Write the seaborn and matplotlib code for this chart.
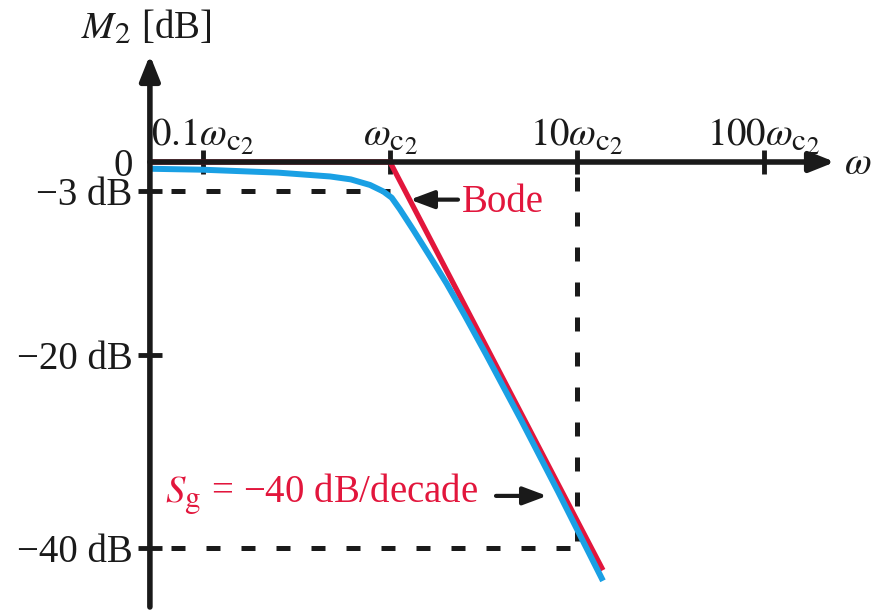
import numpy as np
import pandas as pd
import matplotlib
matplotlib.use("Agg")
import matplotlib.pyplot as plt
import matplotlib._mathtext as _mt
import seaborn as sns

# ---- data (frequency as multiples of w_c2, magnitude in dB) ----
bode_w = [0.052, 1.0, 13.77]
bode_db = [0.0, 0.0, -42.3]

exact_w = [0.0521, 0.1, 0.2512, 0.4786, 0.6166, 0.7816, 0.9204, 1.0209,
           1.1298, 1.3335, 1.6368, 2.0091, 2.5119, 3.2584, 5.0119, 7.9433,
           13.77]
exact_db = [-0.7, -0.8, -1.1, -1.5, -1.8, -2.38, -3.05, -3.7,
            -4.9, -7.05, -9.8, -12.6, -15.9, -19.9, -26.7, -34.2,
            -43.4]

xtick_vals = [0.1, 1, 10, 100]
xtick_labels = [r"$0.1\omega_{\mathrm{c}_2}$", r"$\omega_{\mathrm{c}_2}$",
                r"$10\omega_{\mathrm{c}_2}$", r"$100\omega_{\mathrm{c}_2}$"]
ytick_vals = [0, -3, -20, -40]
ytick_labels = ["0", "\u22123 dB", "\u221220 dB", "\u221240 dB"]

RED = "#E2163C"
BLUE = "#1AA0E4"
INK = "#1a1a1a"
FS = 28

# slightly larger sub/superscripts, like the textbook typesetting
try:
    _mt.SHRINK_FACTOR = 0.8
except Exception:
    pass

sns.set_theme(style="white")
plt.rcParams["font.family"] = ["Liberation Serif", "DejaVu Serif"]
plt.rcParams["mathtext.fontset"] = "stix"
plt.rcParams["axes.unicode_minus"] = True

fig = plt.figure(figsize=(8.81, 6.10), dpi=100)
ax = fig.add_axes([0, 0, 1, 1])
ax.set_xscale("log")
ax.set_xlim(10 ** (-390 / 187), 10 ** ((881 - 390) / 187))
ax.set_ylim(-(610 - 162) / 9.65, 162 / 9.65)

x0 = bode_w[0]
x_end = 10 ** ((835 - 390) / 187)
y_top = (162 - 55) / 9.65
y_bot = -(607 - 162) / 9.65

# dashed guide lines
dash_lw = 3.6
ax.plot([x0, 1.0], [-3, -3], color=INK, lw=dash_lw,
        linestyle=(2.8, (2.8, 4.2)), zorder=1)
ax.plot([x0, 10], [-40, -40], color=INK, lw=dash_lw,
        linestyle=(2.8, (2.8, 4.2)), zorder=1)
ax.plot([10, 10], [0, -40], color=INK, lw=dash_lw,
        linestyle=(4.0, (2.8, 4.2)), zorder=1)

# curves
df_bode = pd.DataFrame({"w": bode_w, "db": bode_db})
df_exact = pd.DataFrame({"w": exact_w, "db": exact_db})
sns.lineplot(data=df_bode, x="w", y="db", ax=ax, color=RED, lw=3.8,
             sort=False, estimator=None, zorder=3)
sns.lineplot(data=df_exact, x="w", y="db", ax=ax, color=BLUE, lw=4.3,
             sort=False, estimator=None, zorder=4)
for ln in ax.get_lines()[-2:]:
    ln.set_solid_joinstyle("round")
    ln.set_solid_capstyle("butt")

# axes with arrows
arrow_kw = dict(arrowstyle="-|>,head_length=0.75,head_width=0.3",
                color=INK, lw=4, mutation_scale=20, shrinkA=0, shrinkB=0)
ax.annotate("", xy=(x0, y_top), xytext=(x0, y_bot), arrowprops=arrow_kw, zorder=5)
ax.annotate("", xy=(x_end, 0), xytext=(x0, 0), arrowprops=arrow_kw, zorder=5)

for s in ax.spines.values():
    s.set_visible(False)
ax.spines["top"].set_position(("data", 0))
ax.spines["left"].set_position(("data", x0))

ax.xaxis.set_ticks_position("top")
ax.set_xticks(xtick_vals)
ax.set_xticklabels(xtick_labels)
ax.xaxis.set_minor_locator(matplotlib.ticker.NullLocator())
ax.tick_params(axis="x", which="major", direction="inout", length=17,
               width=3.5, color=INK, labelsize=FS, labelcolor=INK, pad=-5,
               top=True, bottom=False, labeltop=True, labelbottom=False)

ax.yaxis.set_ticks_position("left")
ax.set_yticks(ytick_vals)
ax.set_yticklabels(ytick_labels)
ax.tick_params(axis="y", direction="inout", length=17, width=3.5, color=INK,
               labelsize=FS, labelcolor=INK, pad=4)
ax.yaxis.get_major_ticks()[0].tick1line.set_visible(False)

ax.set_xlabel("")
ax.set_ylabel("")

# axis names
ax.text(10 ** ((146 - 390) / 187), 13.8, r"$M_2$ [dB]", fontsize=FS,
        color=INK, ha="center", va="center")
ax.text(10 ** ((858 - 390) / 187), -0.3, r"$\omega$", fontsize=FS,
        color=INK, ha="center", va="center")

# annotations
small_arrow = dict(arrowstyle="-|>,head_length=0.8,head_width=0.3",
                   color=INK, lw=3, mutation_scale=18, shrinkA=0, shrinkB=0)
ax.text(10 ** ((462 - 390) / 187), -5.14, "Bode", fontsize=FS, color=RED,
        ha="left", va="baseline")
ax.annotate("", xy=(10 ** ((410 - 390) / 187), -3.9),
            xytext=(10 ** ((458 - 390) / 187), -3.9),
            arrowprops=small_arrow, zorder=5)
ax.text(10 ** ((165 - 390) / 187), -35.3,
        r"$S_{\mathrm{g}}$ = " + "\u221240 dB/decade",
        fontsize=FS, color=RED, ha="left", va="baseline")
ax.annotate("", xy=(10 ** ((547 - 390) / 187), -34.6),
            xytext=(10 ** ((496 - 390) / 187), -34.6),
            arrowprops=small_arrow, zorder=5)

fig.savefig("out.png", dpi=100, facecolor="white")
